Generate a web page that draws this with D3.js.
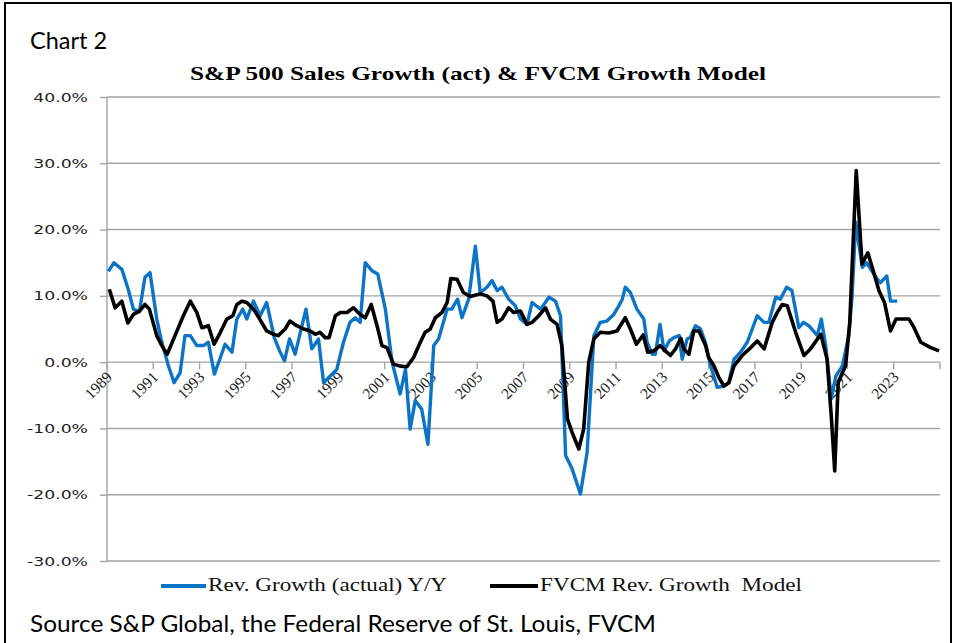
<!DOCTYPE html>
<html><head><meta charset="utf-8">
<script src="https://cdn.jsdelivr.net/npm/d3@7/dist/d3.min.js"></script>
<style>body{margin:0;background:#fff;}svg{display:block;}</style>
</head><body>
<svg id="chart" width="956" height="643"></svg>
<script>
// ---- data ----
const actualYears = [1989.06,1989.3,1989.64,1989.9,1990.14,1990.4,1990.64,1990.86,1991.15,1991.37,1991.65,1991.9,1992.16,1992.37,1992.6,1992.88,1993.17,1993.38,1993.64,1993.9,1994.1,1994.4,1994.61,1994.87,1995.04,1995.33,1995.62,1995.9,1996.23,1996.46,1996.67,1996.89,1997.13,1997.6,1997.85,1998.14,1998.36,1998.93,1999.22,1999.5,1999.73,1999.94,2000.16,2000.45,2000.7,2001.03,2001.32,2001.67,2001.9,2002.1,2002.32,2002.6,2002.87,2003.12,2003.33,2003.7,2003.9,2004.15,2004.34,2004.63,2004.92,2005.13,2005.42,2005.64,2005.86,2006.07,2006.36,2006.65,2006.87,2007.15,2007.37,2007.74,2008.1,2008.38,2008.6,2008.82,2009.1,2009.46,2009.75,2010.04,2010.32,2010.6,2010.9,2011.12,2011.27,2011.4,2011.62,2011.9,2012.2,2012.34,2012.56,2012.7,2012.9,2013.07,2013.3,2013.5,2013.73,2013.86,2014.07,2014.2,2014.43,2014.65,2014.86,2015.08,2015.37,2015.66,2015.87,2016.1,2016.38,2016.67,2017.1,2017.4,2017.6,2017.9,2018.1,2018.37,2018.6,2018.9,2019.1,2019.33,2019.7,2019.87,2020.06,2020.3,2020.5,2020.78,2021.06,2021.2,2021.36,2021.64,2021.83,2022.29,2022.43,2022.7,2022.86,2023.15];
const actualValues = [13.7,15.0,14.0,11.2,8.0,7.6,12.8,13.5,6.5,3.0,-0.5,-3.1,-1.6,4.0,4.0,2.5,2.5,3.0,-1.8,0.7,2.7,1.5,6.5,8.0,6.5,9.2,7.0,9.0,3.7,1.7,0.2,3.5,1.2,8.0,2.0,3.5,-3.1,-1.1,3.0,6.0,6.7,6.0,15.0,13.8,13.3,8.0,0.0,-4.8,-1.1,-10.1,-5.8,-7.1,-12.4,2.5,3.5,8.0,8.0,9.5,6.7,9.5,17.5,10.5,11.3,12.3,10.8,11.3,9.5,8.5,6.5,5.7,9.0,8.0,9.8,9.2,7.0,-14.1,-16.1,-19.9,-13.6,4.0,6.0,6.2,7.2,8.5,9.5,11.3,10.5,8.0,6.5,3.0,1.2,1.2,5.7,1.7,3.2,3.7,4.0,0.45,3.5,3.7,5.5,5.0,3.0,-0.5,-3.8,-3.6,-3.1,0.45,1.5,3.0,7.0,6.0,6.0,9.8,9.5,11.3,10.8,5.2,6.0,5.5,4.0,6.5,2.5,-5.5,-2.1,-0.55,4.0,10.0,21.1,14.3,15.0,12.5,12.0,13.0,9.2,9.2];

const modelYears = [1989.1,1989.35,1989.64,1989.9,1990.14,1990.4,1990.64,1990.83,1991.15,1991.37,1991.6,1991.94,1992.3,1992.6,1992.88,1993.1,1993.38,1993.63,1993.9,1994.18,1994.44,1994.61,1994.83,1995.04,1995.33,1995.6,1995.9,1996.2,1996.4,1996.7,1996.9,1997.2,1997.5,1997.78,1998.0,1998.2,1998.43,1998.6,1998.87,1999.08,1999.37,1999.65,1999.94,2000.16,2000.42,2000.67,2000.88,2001.1,2001.38,2001.67,2001.96,2002.25,2002.54,2002.75,2002.97,2003.19,2003.48,2003.7,2003.86,2004.13,2004.4,2004.7,2005.13,2005.42,2005.68,2005.86,2006.07,2006.36,2006.57,2006.87,2007.15,2007.37,2007.66,2007.95,2008.16,2008.45,2008.66,2008.9,2009.1,2009.39,2009.6,2009.82,2010.04,2010.32,2010.68,2011.04,2011.4,2011.62,2011.88,2012.17,2012.37,2012.63,2012.9,2013.13,2013.35,2013.57,2013.8,2013.93,2014.15,2014.36,2014.58,2014.87,2015.0,2015.23,2015.44,2015.66,2015.88,2016.1,2016.45,2016.82,2017.1,2017.4,2017.75,2017.97,2018.18,2018.4,2018.76,2019.12,2019.4,2019.85,2020.12,2020.3,2020.45,2020.6,2020.78,2020.92,2021.1,2021.38,2021.63,2021.88,2022.14,2022.36,2022.6,2022.86,2023.1,2023.66,2023.88,2024.17,2024.6,2024.96];
const modelValues = [11.0,8.2,9.2,5.9,7.2,7.7,8.7,8.0,4.0,2.5,1.2,4.0,7.0,9.2,7.5,5.2,5.5,2.7,4.5,6.5,7.0,8.7,9.2,9.0,8.0,6.5,4.7,4.2,4.0,5.0,6.2,5.5,5.0,4.7,4.2,4.5,3.7,3.7,7.0,7.5,7.5,8.2,7.2,6.7,8.7,5.5,2.5,2.2,-0.3,-0.6,-0.7,0.7,3.0,4.5,5.0,6.7,7.5,9.0,12.6,12.5,10.5,9.9,10.3,10.0,9.2,6.0,6.5,8.2,7.5,7.7,5.7,6.0,7.0,8.2,6.5,5.7,2.5,-8.6,-10.6,-13.1,-10.1,0.0,3.5,4.5,4.4,4.7,6.7,5.0,2.7,4.1,1.5,1.7,2.5,1.7,1.0,2.0,3.6,2.0,1.2,4.7,4.7,2.5,0.7,-0.55,-2.3,-3.6,-3.1,-0.55,1.0,2.2,3.2,2.0,6.0,7.5,8.7,8.5,4.5,1.0,2.0,4.2,0.45,-8.1,-16.4,-3.1,-1.6,-0.55,6.0,28.9,14.8,16.5,13.5,10.8,9.0,4.7,6.5,6.5,5.2,3.0,2.2,1.7];

const yTickValues = [40,30,20,10,0,-10,-20,-30];
const xTickYears = [1989,1991,1993,1995,1997,1999,2001,2003,2005,2007,2009,2011,2013,2015,2017,2019,2021,2023,2025];
const xTickLabels = ["1989","1991","1993","1995","1997","1999","2001","2003","2005","2007","2009","2011","2013","2015","2017","2019","2021","2023",""];
const seriesNames = ["Rev. Growth (actual) Y/Y","FVCM Rev. Growth  Model"];
const seriesColors = ["#0c74c6","#000000"];

// ---- layout ----
const svg = d3.select("#chart");
const L = 107, R = 940, T = 97, B = 561;
const x = d3.scaleLinear().domain([1989, 2025]).range([L, R]);
const y = d3.scaleLinear().domain([-30, 40]).range([B, T]);
const gridColor = "#a3a3a3";

// frame
svg.append("path").attr("d","M5,645 L5,3 L951,3 L951,645")
  .attr("fill","none").attr("stroke","#000").attr("stroke-width",2);

// headings
svg.append("text").attr("x",30).attr("y",49).text("Chart 2")
  .attr("font-family","Lato, 'Open Sans', sans-serif").attr("font-size",23)
  .attr("textLength",77).attr("lengthAdjust","spacingAndGlyphs");
svg.append("text").attr("x",478).attr("y",80).attr("text-anchor","middle")
  .text("S&P 500 Sales Growth (act) & FVCM Growth Model")
  .attr("font-family","'Liberation Serif', serif").attr("font-weight","bold").attr("font-size",19)
  .attr("textLength",576).attr("lengthAdjust","spacingAndGlyphs");

// gridlines
svg.append("g").selectAll("line").data(yTickValues).join("line")
  .attr("x1",L).attr("x2",R).attr("y1",d=>y(d)).attr("y2",d=>y(d))
  .attr("stroke",gridColor).attr("stroke-width",1.4);

// y axis
const yAxis = svg.append("g").attr("transform",`translate(${L},0)`)
  .call(d3.axisLeft(y).tickValues(yTickValues).tickSize(7).tickPadding(12)
        .tickFormat(d => d.toFixed(1) + "%"));
yAxis.select(".domain").attr("stroke",gridColor).attr("stroke-width",1.4).attr("d",`M0,${T}V${B}`);
yAxis.selectAll(".tick line").attr("stroke",gridColor).attr("stroke-width",1.4);
yAxis.selectAll(".tick text").attr("font-family","'DejaVu Sans', sans-serif").attr("font-size",12.5)
  .attr("fill","#222")
  .each(function(){ const w=this.getComputedTextLength(); d3.select(this).attr("textLength",w*1.38).attr("lengthAdjust","spacingAndGlyphs"); });

// x axis (at zero)
const xAxis = svg.append("g").attr("transform",`translate(0,${y(0)})`);
xAxis.selectAll("line").data(xTickYears).join("line")
  .attr("x1",d=>x(d)).attr("x2",d=>x(d)).attr("y1",0).attr("y2",7)
  .attr("stroke",gridColor).attr("stroke-width",1.4);
xAxis.selectAll("text").data(xTickYears).join("text")
  .attr("transform",d=>`translate(${x(d)+6},16) rotate(-45)`)
  .attr("text-anchor","end")
  .attr("font-family","'Liberation Serif', serif").attr("font-size",15.5).attr("fill","#222")
  .text((d,i)=>xTickLabels[i]);

// series
const line = d3.line().x(d=>x(d[0])).y(d=>y(d[1]));
const actual = actualYears.map((yr,i)=>[yr, actualValues[i]]);
const model = modelYears.map((yr,i)=>[yr, modelValues[i]]);
svg.append("path").datum(actual).attr("d",line).attr("fill","none")
  .attr("stroke",seriesColors[0]).attr("stroke-width",3.4).attr("stroke-linejoin","round");
svg.append("path").datum(model).attr("d",line).attr("fill","none")
  .attr("stroke",seriesColors[1]).attr("stroke-width",3.6).attr("stroke-linejoin","round");

// legend
const legendItems = [
  {x1:161, x2:206, tx:208, tl:239},
  {x1:490, x2:538, tx:540, tl:262}
];
const lg = svg.append("g");
lg.selectAll("line").data(legendItems).join("line")
  .attr("x1",d=>d.x1).attr("x2",d=>d.x2).attr("y1",586).attr("y2",586)
  .attr("stroke",(d,i)=>seriesColors[i]).attr("stroke-width",4);
lg.selectAll("text").data(legendItems).join("text")
  .attr("x",d=>d.tx).attr("y",591).text((d,i)=>seriesNames[i])
  .attr("font-family","'Liberation Serif', serif").attr("font-size",18).attr("fill","#111")
  .attr("textLength",d=>d.tl).attr("lengthAdjust","spacingAndGlyphs")
  .attr("xml:space","preserve").style("white-space","pre");

// source
svg.append("text").attr("x",30).attr("y",632)
  .text("Source S&P Global, the Federal Reserve of St. Louis, FVCM")
  .attr("font-family","Lato, 'Open Sans', sans-serif").attr("font-size",23)
  .attr("textLength",626).attr("lengthAdjust","spacingAndGlyphs");
</script>
</body></html>
